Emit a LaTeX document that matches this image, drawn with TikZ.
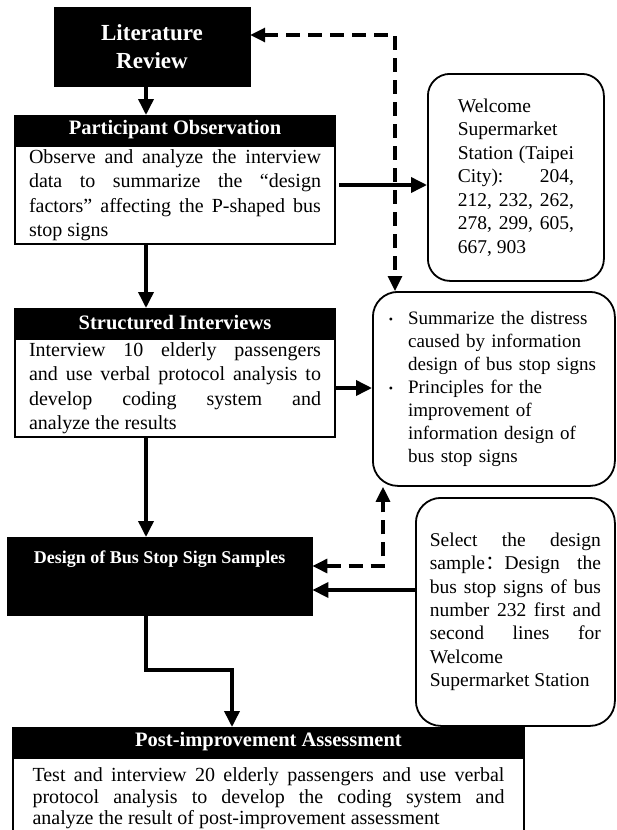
\documentclass[tikz,border=0pt]{standalone}
\usepackage{fontspec}
\setmainfont{Liberation Serif}
\newfontfamily\cjkfont{Noto Sans CJK SC}
\usepackage{tikz}
\usetikzlibrary{arrows.meta, positioning, calc}

\newcommand{\notedot}{\raisebox{1pt}{\fontsize{12}{12}\selectfont •}}

\tikzset{
  darkbox/.style={fill=black, draw=black, text=white, align=center, inner sep=0pt},
  headbar/.style={fill=black, draw=black, line width=2pt, text=white,
    font=\fontsize{20.5}{24}\selectfont\bfseries, inner sep=0pt},
  bodybox/.style={draw=black, line width=2pt, fill=white, align=justify,
    font=\fontsize{20}{24.5}\selectfont, inner sep=0pt},
  notebox/.style={draw=black, line width=1.8pt, rounded corners=25pt, inner sep=0pt},
  flow/.style={line width=3.6pt, -{Triangle[length=16pt,width=15pt]}},
  backflow/.style={line width=3.2pt, dash pattern=on 14pt off 8pt,
    {Triangle[length=15pt,width=14pt]}-{Triangle[length=15pt,width=14pt]}}
}

\begin{document}
\begin{tikzpicture}[x=1pt, y=-1pt]
  \useasboundingbox (0,0) rectangle (616,830);
  \clip (0,0) rectangle (616,830);

  % main column
  \node[darkbox, minimum width=196pt, minimum height=79pt,
        font=\fontsize{23}{28}\selectfont\bfseries] (lit) at (152,46.5) {Literature\\Review};

  \node[bodybox, text width=292pt, minimum width=320pt, minimum height=98pt,
        anchor=north west] (obs) at (14,145)
        {Observe and analyze the interview\linebreak data to summarize the “design\linebreak
         factors” affecting the P-shaped bus\linebreak stop signs};
  \node[headbar, minimum width=320pt, minimum height=28pt, anchor=south] (obshead) at (obs.north)
        {Participant Observation};

  \node[bodybox, text width=292pt, minimum width=320pt, minimum height=98pt,
        anchor=north west] (intv) at (14,338)
        {Interview 10 elderly passengers\linebreak and use verbal protocol analysis to\linebreak
         develop coding system and\linebreak analyze the results};
  \node[headbar, minimum width=320pt, minimum height=28pt, anchor=south] (intvhead) at (intv.north)
        {Structured Interviews};

  \node[darkbox, minimum width=305pt, minimum height=78pt, anchor=north west] (design) at (7,537) {};
  \node[text=white, font=\fontsize{18}{22}\selectfont\bfseries, inner sep=0pt] (designtext)
        at ([yshift=-22pt]design.north) {Design of Bus Stop Sign Samples};

  \node[bodybox, text width=472pt, minimum width=511pt, inner ysep=10pt,
        font=\fontsize{20}{21.5}\selectfont, anchor=north west] (assess) at (12,757)
        {Test and interview 20 elderly passengers and use verbal\linebreak
         protocol analysis to develop the coding system and\linebreak
         analyze the result of post-improvement assessment};
  \node[headbar, minimum width=511pt, minimum height=28pt, anchor=south] (assesshead) at (assess.north)
        {Post-improvement Assessment};

  % notes on the right
  \node[notebox, rounded corners=22pt, minimum width=176pt, minimum height=207pt, text width=116pt,
        align=justify, font=\fontsize{19.5}{23.5}\selectfont, anchor=north west] (station) at (427,73)
        {Welcome\linebreak Supermarket\linebreak Station (Taipei\linebreak City): 204,\linebreak
         212, 232, 262,\linebreak 278, 299, 605,\linebreak 667, 903};

  \node[notebox, minimum width=242pt, minimum height=194pt, text width=228pt, align=left,
        anchor=north west, font=\fontsize{19}{23}\selectfont] (distress) at (372,291)
        {\begin{tabular}{@{\hspace{9pt}}l@{\hspace{15pt}}l@{}}
           \notedot & Summarize the distress\\
             & caused by information\\
             & design of bus stop signs\\
           \notedot & Principles for the\\
             & improvement of\\
             & information design of\\
             & bus stop signs
         \end{tabular}};

  \node[notebox, minimum width=199pt, minimum height=228pt, text width=171pt, align=justify,
        font=\fontsize{19.5}{23.3}\selectfont, anchor=north west] (sample) at (415,497)
        {Select the design\linebreak sample{\cjkfont ：}Design the\linebreak bus stop signs of bus\linebreak
         number 232 first and\linebreak second lines for\linebreak Welcome\\Supermarket Station};

  % connectors
  \coordinate (spine) at (146,0);
  \draw[flow] (lit.south -| spine) -- (obshead.north -| spine);
  \draw[flow] (obs.south -| spine) -- (intvhead.north -| spine);
  \draw[flow] (intv.south -| spine) -- (design.north -| spine);
  \coordinate (turnA) at (146,670);
  \coordinate (turnB) at (232,670);
  \draw[flow] (design.south -| turnA) -- (turnA) -- (turnB) -- (assesshead.north -| turnB);

  \coordinate (loopup) at (395,35);
  \draw[backflow] (loopup -| lit.east) -- (loopup) -- (loopup |- distress.north);
  \coordinate (loopdown) at (383,566);
  \draw[backflow] (loopdown -| design.east) -- (loopdown) -- (loopdown |- distress.south);

  \coordinate (obsline) at (0,185);
  \draw[flow, shorten <=3pt] (obs.east |- obsline) -- (station.west |- obsline);
  \draw[flow] (intv.east) -- (intv.east -| distress.west);
  \coordinate (sampleline) at (0,590);
  \draw[flow] (sample.west |- sampleline) -- (design.east |- sampleline);
\end{tikzpicture}
\end{document}
